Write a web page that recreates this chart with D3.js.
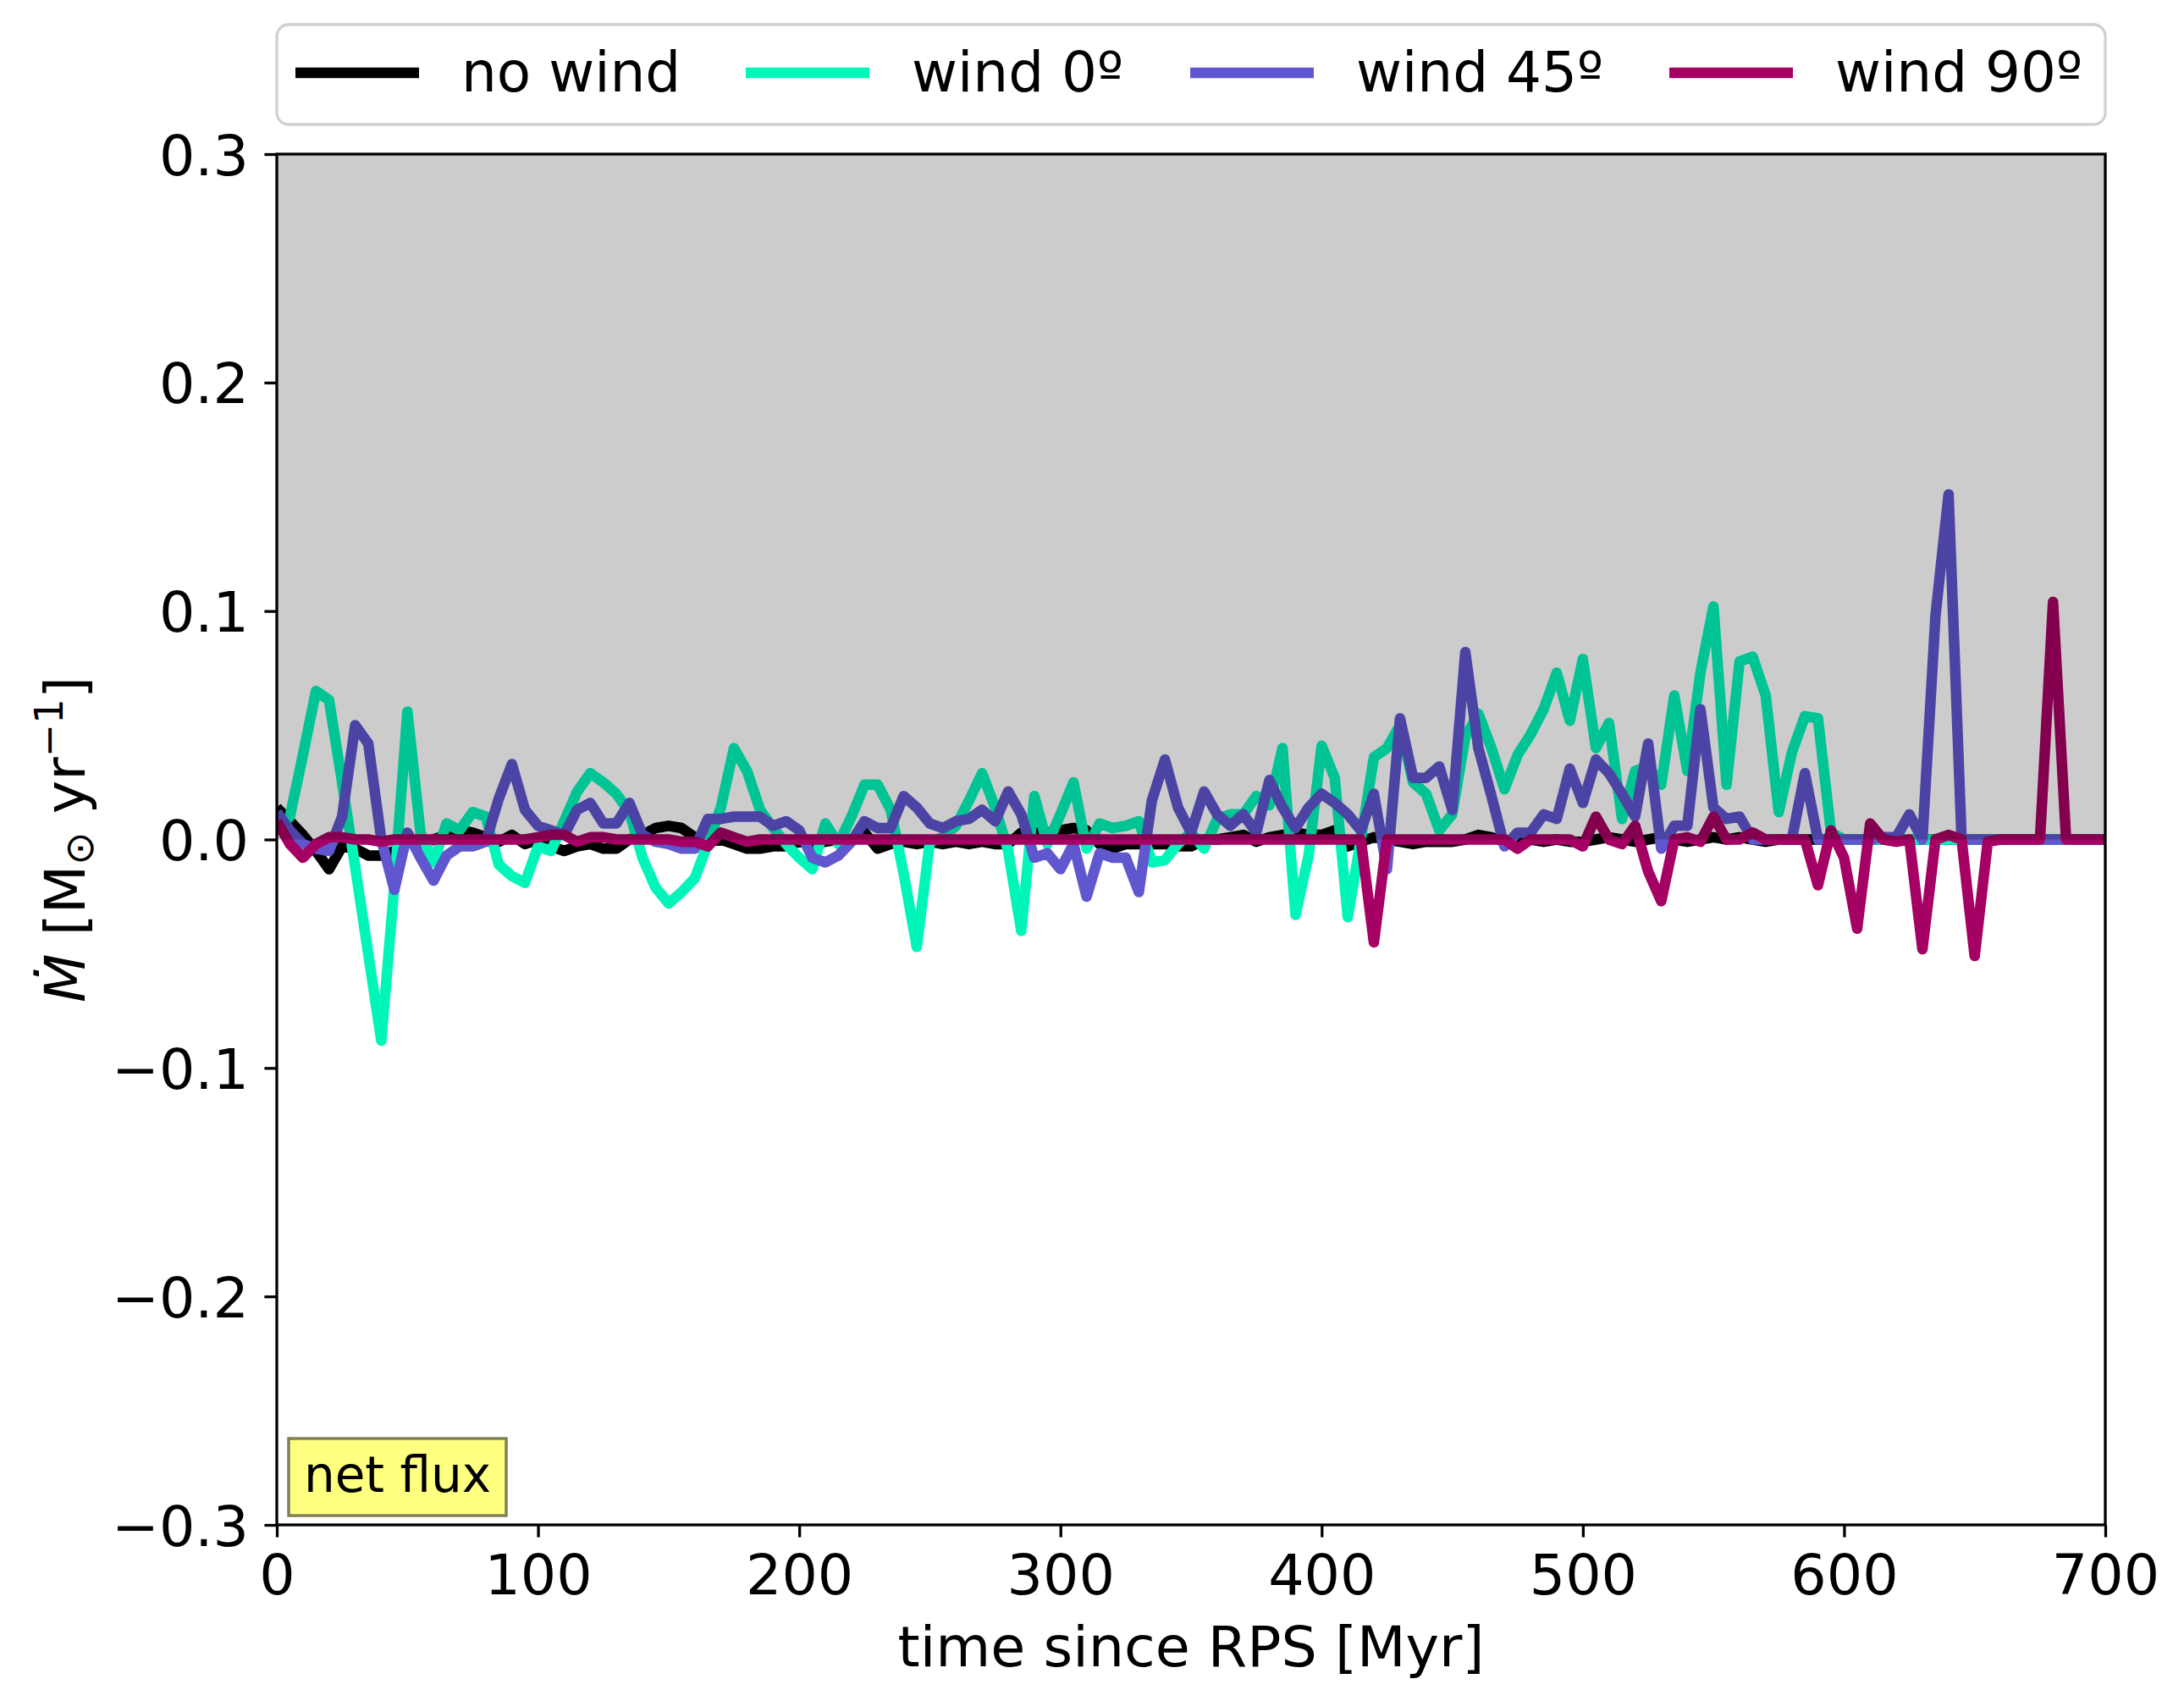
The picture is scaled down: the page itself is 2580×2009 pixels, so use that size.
<!DOCTYPE html>
<html><head><meta charset="utf-8">
<script src="https://cdn.jsdelivr.net/npm/d3@7"></script>
<style>body{margin:0;background:#fff} text{font-family:"DejaVu Sans",sans-serif}</style>
</head><body>
<svg id="c" width="2580" height="2009" xmlns="http://www.w3.org/2000/svg"></svg>
<script>
// ---------- data ----------
const time = [
 0,5,10,15,20,25,30,35,40,45, 50,55,60,65,70,75,80,85,90,95,
 100,105,110,115,120,125,130,135,140,145, 150,155,160,165,170,175,180,185,190,195,
 200,205,210,215,220,225,230,235,240,245, 250,255,260,265,270,275,280,285,290,295,
 300,305,310,315,320,325,330,335,340,345, 350,355,360,365,370,375,380,385,390,395,
 400,405,410,415,420,425,430,435,440,445, 450,455,460,465,470,475,480,485,490,495,
 500,505,510,515,520,525,530,535,540,545, 550,555,560,565,570,575,580,585,590,595,
 600,605,610,615,620,625,630,635,640,645, 650,655,660,665,670,675,680,685,690,695,
 700];

const noWind = [
 0.014,0.008,0.002,-0.005,-0.013,-0.003,-0.004,-0.007,-0.007,-0.005,
 -0.001,-0.002,0.000,0.002,0.004,0.003,0.001,-0.001,0.002,-0.002,
 0.000,-0.003,-0.005,-0.003,-0.002,-0.004,-0.004,0.000,0.002,0.005,
 0.006,0.005,0.001,-0.001,0.000,-0.002,-0.004,-0.004,-0.003,-0.003,
 -0.001,-0.002,-0.001,0.000,0.000,0.003,-0.004,-0.002,-0.001,-0.002,
 -0.001,-0.002,-0.001,-0.002,-0.001,-0.002,-0.002,0.003,0.003,0.003,
 0.004,0.005,0.004,-0.002,-0.004,-0.002,-0.002,-0.002,-0.002,-0.003,
 -0.003,0.000,0.000,0.001,0.002,-0.001,0.001,0.002,0.003,0.002,
 0.002,0.004,-0.003,-0.001,0.001,0.000,-0.001,-0.002,-0.001,-0.001,
 -0.001,0.000,0.002,0.001,-0.001,-0.001,0.000,-0.001,0.000,-0.001,
 -0.001,0.000,0.001,0.000,-0.001,0.000,0.001,0.000,-0.001,0.000,
 0.001,0.000,0.001,0.000,-0.001,0.000,0.000,0.000,0.000,0.000,
 0,0,0,0,0,0,0,0,0,0,
 0,0,0,0,0,0,0,0,0,0,
 0];

const wind0 = [
 0.004,0.010,0.037,0.065,0.061,0.025,-0.012,-0.050,-0.088,-0.020,
 0.056,0.003,-0.010,0.007,0.004,0.012,0.010,-0.011,-0.016,-0.019,
 -0.003,-0.005,0.008,0.021,0.029,0.025,0.020,0.012,-0.008,-0.021,
 -0.028,-0.023,-0.017,-0.002,0.014,0.040,0.030,0.013,0.005,-0.002,
 -0.008,-0.013,0.007,-0.002,0.010,0.024,0.024,0.013,-0.015,-0.047,
 -0.001,0.001,0.006,0.017,0.029,0.014,-0.005,-0.040,0.019,-0.002,
 0.011,0.025,-0.004,0.007,0.005,0.006,0.008,-0.010,-0.009,-0.002,
 0.003,-0.004,0.009,0.011,0.011,0.019,0.015,0.040,-0.033,-0.007,
 0.041,0.027,-0.034,0.000,0.036,0.040,0.050,0.025,0.020,0.004,
 0.011,0.045,0.055,0.040,0.022,0.037,0.046,0.057,0.073,0.052,
 0.079,0.040,0.051,0.009,0.030,0.032,0.024,0.063,0.030,0.073,
 0.102,0.024,0.078,0.080,0.063,0.012,0.038,0.054,0.053,0.003,
 0,0,0,0,0,0,0,0,0,0,
 0,0,0,0,0,0,0,0,0,0,
 0];

const wind45 = [
 0.012,0.004,-0.002,-0.004,-0.005,0.010,0.050,0.042,0.000,-0.022,
 0.003,-0.008,-0.018,-0.007,-0.003,-0.003,-0.001,0.018,0.033,0.013,
 0.006,0.004,0.002,0.013,0.016,0.007,0.007,0.016,0.002,-0.001,
 -0.002,-0.004,-0.004,0.009,0.009,0.010,0.010,0.010,0.006,0.008,
 0.004,-0.008,-0.010,-0.007,-0.001,0.008,0.005,0.005,0.019,0.014,
 0.007,0.005,0.008,0.009,0.013,0.008,0.021,0.011,-0.008,-0.006,
 -0.013,-0.002,-0.025,-0.006,-0.008,-0.008,-0.023,0.017,0.035,0.014,
 0.003,0.021,0.011,0.006,0.011,0.003,0.026,0.014,0.005,0.014,
 0.020,0.016,0.011,0.004,0.020,-0.013,0.053,0.027,0.027,0.032,
 0.013,0.082,0.040,0.019,-0.003,0.003,0.003,0.011,0.009,0.031,
 0.016,0.035,0.029,0.020,0.010,0.042,-0.004,0.006,0.006,0.057,
 0.014,0.009,0.010,0.000,0.000,0.000,0.000,0.029,0.000,0.000,
 0.000,0.000,0.000,0.001,0.001,0.011,0.000,0.098,0.151,0.000,
 0,0,0,0,0,0,0,0,0,0,
 0];

const wind90 = [
 0.008,-0.002,-0.008,-0.002,0.001,0.001,0.000,0.000,-0.001,0.000,
 0,0,0,0,0,0,0,0,0,0,
 0.001,0.002,0.002,-0.001,0.001,0.001,0,0,0,0,
 0,-0.001,-0.001,-0.003,0.003,0.001,-0.001,0,0,0,
 0,0,0,0,0,0,0,0,0,0,
 0,0,0,0,0,0,0,0,0,0,
 0,0,0,0,0,0,0,0,0,0,
 0,0,0,0,0,0,0,0,0,0,
 0,0,0,0,-0.045,0,0,0,0,0,
 0,0,0,0,0,-0.004,0,0,0,0,
 -0.003,0.010,0.000,-0.002,0.006,-0.014,-0.027,0.000,0.001,-0.001,
 0.010,0.000,0.000,0.003,0.000,0,0,0,-0.020,0.004,
 -0.008,-0.039,0.007,0.000,-0.001,0.000,-0.048,0.000,0.002,0.000,
 -0.051,-0.001,0,0,0,0,0.104,0,0,0,
 0];

const seriesNames = ["no wind", "wind 0º", "wind 45º", "wind 90º"];
const seriesValues = [noWind, wind0, wind45, wind90];
const seriesColors = ["#000000", "#00f6b9", "#6056cd", "#a50063"];

const xTicks = [0,100,200,300,400,500,600,700];
const xTickLabels = ["0","100","200","300","400","500","600","700"];
const yTicks = [-0.3,-0.2,-0.1,0.0,0.1,0.2,0.3];
const yTickLabels = ["\u22120.3","\u22120.2","\u22120.1","0.0","0.1","0.2","0.3"];

// ---------- layout ----------
const L = 327, R = 2487, T = 182, B = 1801;
const FS = 66.7;
const LW = 12.5;

const svg = d3.select("#c");
svg.append("rect").attr("width",2580).attr("height",2009).attr("fill","#fff");

const x = d3.scaleLinear().domain([0,700]).range([L,R]);
const y = d3.scaleLinear().domain([-0.3,0.3]).range([B,T]);

svg.append("defs").append("clipPath").attr("id","clip")
  .append("rect").attr("x",L).attr("y",T).attr("width",R-L).attr("height",B-T);

const plot = svg.append("g").attr("clip-path","url(#clip)");
const line = d3.line().x((d,i)=>x(time[i])).y(d=>y(d));

seriesValues.forEach((vals, k) => {
  plot.append("path").datum(vals)
    .attr("d", line)
    .attr("fill","none")
    .attr("stroke", seriesColors[k])
    .attr("stroke-width", LW)
    .attr("stroke-linejoin","round")
    .attr("stroke-linecap","butt");
});

// shaded (outflow) region drawn on top, darkening lines
plot.append("rect")
  .attr("x",L).attr("y",y(0.3)).attr("width",R-L).attr("height",y(0)-y(0.3))
  .attr("fill","#000").attr("fill-opacity",0.2);

// ---------- axes ----------
const xAxis = d3.axisBottom(x).tickValues(xTicks).tickFormat((d,i)=>xTickLabels[i])
  .tickSize(14.6).tickPadding(14.6);
const gx = svg.append("g").attr("transform",`translate(0,${B})`).call(xAxis);
gx.select(".domain").remove();
gx.selectAll(".tick line").attr("stroke","#000").attr("stroke-width",3.3);
gx.selectAll(".tick text").attr("font-size",FS).attr("fill","#000")
  .attr("font-family","DejaVu Sans").attr("dy",null).attr("y",null)
  .attr("transform",`translate(0,${1883-B})`);

const yAxis = d3.axisLeft(y).tickValues(yTicks).tickFormat((d,i)=>yTickLabels[i])
  .tickSize(14.6).tickPadding(14.6);
const gy = svg.append("g").attr("transform",`translate(${L},0)`).call(yAxis);
gy.select(".domain").remove();
gy.selectAll(".tick line").attr("stroke","#000").attr("stroke-width",3.3);
gy.selectAll(".tick text").attr("font-size",FS).attr("fill","#000")
  .attr("font-family","DejaVu Sans").attr("x",-33).attr("dy","0.36em");

// spines
svg.append("rect").attr("x",L).attr("y",T).attr("width",R-L).attr("height",B-T)
  .attr("fill","none").attr("stroke","#000").attr("stroke-width",3.3);

// axis labels
svg.append("text").attr("x",(L+R)/2).attr("y",1968).attr("text-anchor","middle")
  .attr("font-size",FS).attr("fill","#000").text("time since RPS [Myr]");

const yl = svg.append("text").attr("transform",`translate(100,${(T+B)/2}) rotate(-90)`)
  .attr("text-anchor","middle").attr("font-size",FS).attr("fill","#000");
yl.append("tspan").attr("font-style","italic").text("\u1E40");
yl.append("tspan").text(" [M");
yl.append("tspan").attr("font-size",47).attr("dy",10).text("\u2299");
yl.append("tspan").attr("dy",-10).text(" yr");
yl.append("tspan").attr("font-size",47).attr("dy",-26).text("\u22121");
yl.append("tspan").attr("dy",26).text("]");

// ---------- legend ----------
const leg = svg.append("g");
leg.append("rect").attr("x",L).attr("y",29).attr("width",R-L).attr("height",118)
  .attr("rx",14).attr("fill","#fff").attr("stroke","#d0d0d0").attr("stroke-width",3.3);
const legLineX = [349, 881, 1406, 1972];
seriesNames.forEach((name,k) => {
  leg.append("line").attr("x1",legLineX[k]).attr("x2",legLineX[k]+146)
    .attr("y1",86).attr("y2",86).attr("stroke",seriesColors[k]).attr("stroke-width",LW);
  leg.append("text").attr("x",legLineX[k]+196).attr("y",108)
    .attr("font-size",66).attr("fill","#000").text(name);
});

// ---------- annotation box ----------
svg.append("rect").attr("x",341).attr("y",1699).attr("width",257).attr("height",91)
  .attr("fill","#ffff80").attr("stroke","#808058").attr("stroke-width",3.5);
svg.append("text").attr("x",469.5).attr("y",1762).attr("text-anchor","middle")
  .attr("font-size",58).attr("fill","#000").text("net flux");
</script>
</body></html>
